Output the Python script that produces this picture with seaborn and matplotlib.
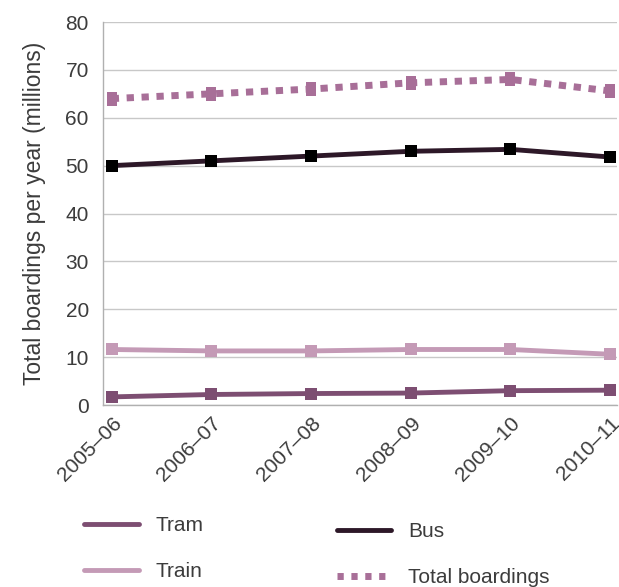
import matplotlib
matplotlib.use("Agg")
import matplotlib.pyplot as plt
from matplotlib.lines import Line2D
import seaborn as sns
import pandas as pd

# values (millions of boardings)
periods = ["2005\u201306", "2006\u201307", "2007\u201308", "2008\u201309", "2009\u201310", "2010\u201311"]
tram = [1.7, 2.2, 2.4, 2.5, 3.0, 3.1]
train = [11.6, 11.3, 11.3, 11.6, 11.6, 10.6]
bus = [50.0, 51.0, 52.0, 53.0, 53.4, 51.8]
total = [64.0, 65.0, 66.0, 67.3, 68.0, 65.6]

yticks = [0, 10, 20, 30, 40, 50, 60, 70, 80]

tram_col = "#7d4e72"
train_col = "#c49ab6"
bus_col = "#2d1828"
total_col = "#a86f98"
text_col = "#3c3c3c"

sns.set_style("white")
plt.rcParams["font.family"] = ["Liberation Sans", "DejaVu Sans"]

df = pd.DataFrame({"period": periods, "Tram": tram, "Train": train, "Bus": bus, "Total": total})

# tall rectangle marker used on the dotted total line
tall_rect = [(-0.33, -0.5), (0.33, -0.5), (0.33, 0.5), (-0.33, 0.5), (-0.33, -0.5)]

fig = plt.figure(figsize=(6.19, 5.87), dpi=100)
ax = fig.add_axes([0.166, 0.31, 0.831, 0.6525])

sns.lineplot(data=df, x="period", y="Total", ax=ax, color=total_col, linewidth=5,
             marker=tall_rect, markersize=10, markeredgewidth=0, markerfacecolor=total_col,
             dashes=False, sort=False)
ax.lines[-1].set_dashes((1.05, 1.1))
ax.lines[-1].set_dash_capstyle("butt")
sns.lineplot(data=df, x="period", y="Train", ax=ax, color=train_col, linewidth=3.5,
             marker="s", markersize=8, markeredgewidth=0, sort=False)
sns.lineplot(data=df, x="period", y="Tram", ax=ax, color=tram_col, linewidth=3.5,
             marker="s", markersize=8, markeredgewidth=0, sort=False)
sns.lineplot(data=df, x="period", y="Bus", ax=ax, color=bus_col, linewidth=3.5,
             marker="s", markersize=9, markeredgewidth=0, markerfacecolor="black", sort=False)

ax.set_xlim(-0.09, 5.07)
ax.set_ylim(0, 80)
ax.set_yticks(yticks)
ax.yaxis.grid(True, color="#c8c8c8", linewidth=1)
ax.xaxis.grid(False)
for s in ["top", "right"]:
    ax.spines[s].set_visible(False)
for s in ["left", "bottom"]:
    ax.spines[s].set_color("#b0b0b0")
    ax.spines[s].set_linewidth(1)
ax.tick_params(axis="both", length=0, labelsize=15, labelcolor=text_col)
ax.tick_params(axis="y", pad=10)
ax.tick_params(axis="x", pad=6)
plt.setp(ax.get_xticklabels(), rotation=45, ha="right", rotation_mode="anchor")
ax.set_xlabel("")
ax.set_ylabel("Total boardings per year (millions)", fontsize=16.5, color=text_col, labelpad=14)

left_handles = [Line2D([], [], color=tram_col, linewidth=3.5),
                Line2D([], [], color=train_col, linewidth=3.5)]
right_handles = [Line2D([], [], color=bus_col, linewidth=3.5),
                 Line2D([], [], color=total_col, linewidth=5, linestyle=(0, (0.9, 1.1)),
                        dash_capstyle="butt")]
kw = dict(frameon=False, fontsize=15, handlelength=2.6, handletextpad=0.8,
          labelspacing=1.3, labelcolor=text_col, loc="upper left", borderaxespad=0)
fig.legend(left_handles, ["Tram", "Train"], bbox_to_anchor=(0.123, 0.135), **kw)
fig.legend(right_handles, ["Bus", "Total boardings"], bbox_to_anchor=(0.531, 0.125), **kw)

fig.savefig("out.png", dpi=100)
